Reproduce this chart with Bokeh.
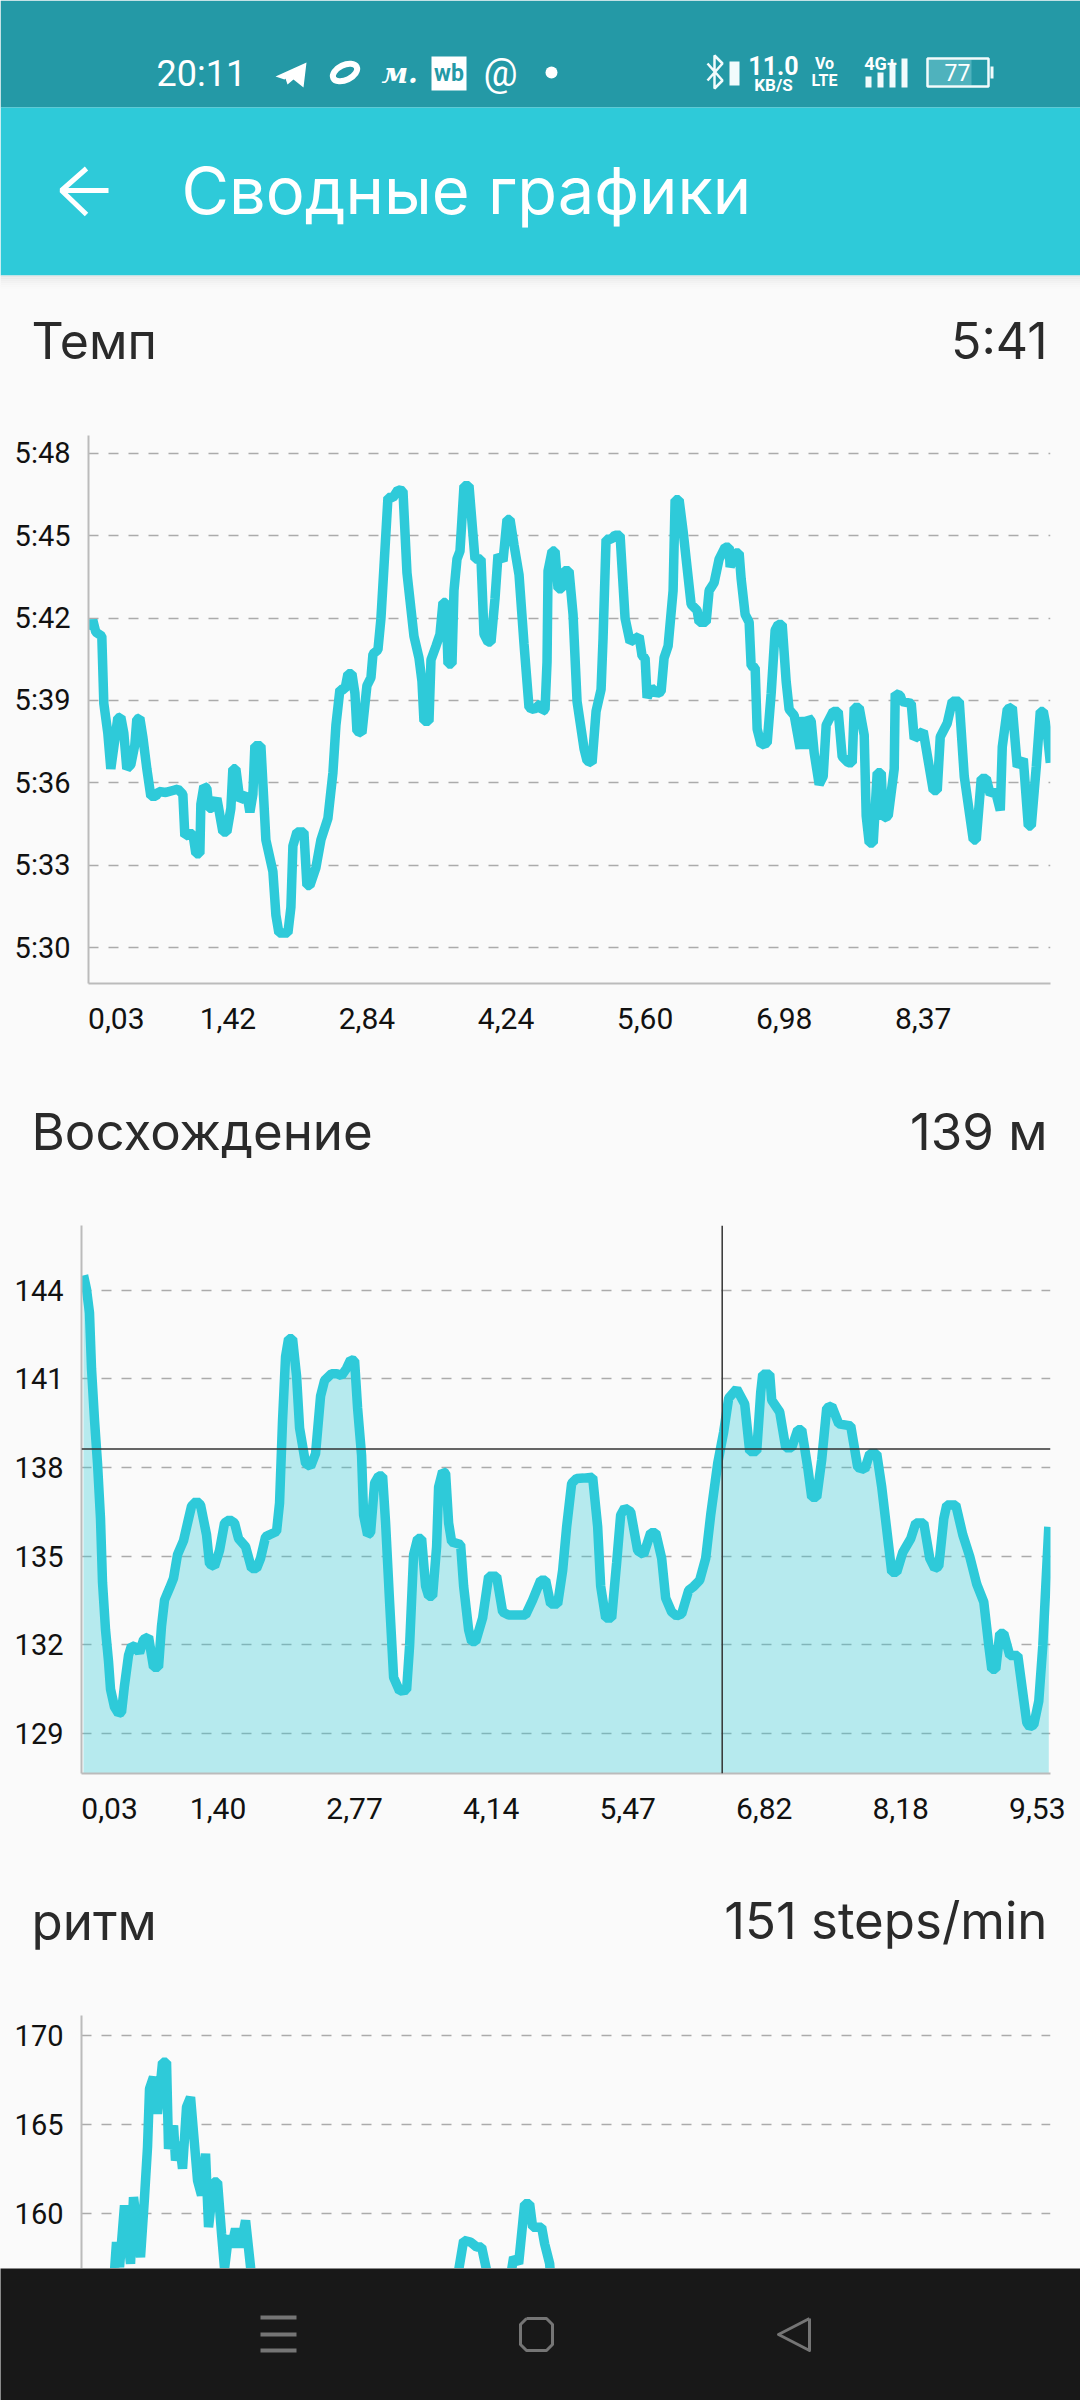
from bokeh.plotting import figure
from bokeh.layouts import column
from bokeh.models import Range1d, FixedTicker, Span
from bokeh.core.properties import value
from bokeh.embed import file_html
from bokeh.resources import INLINE

# ---------- data ----------
pace_km = [0.05,0.07,0.10,0.16,0.18,0.22,0.25,0.32,0.35,0.38,0.41,0.45,0.49,0.51,0.54,0.57,0.61,0.65,0.70,0.73,0.80,0.87,0.92,0.97,0.99,1.04,1.07,1.10,1.14,1.15,1.18,1.21,1.23,1.26,1.31,1.37,1.41,1.45,1.47,1.50,1.54,1.61,1.64,1.67,1.69,1.75,1.80,1.87,1.90,1.93,1.97,2.02,2.05,2.07,2.11,2.18,2.21,2.24,2.30,2.35,2.42,2.47,2.50,2.54,2.59,2.62,2.66,2.69,2.71,2.76,2.81,2.85,2.87,2.92,2.95,2.98,3.02,3.07,3.12,3.17,3.21,3.28,3.33,3.36,3.38,3.43,3.45,3.50,3.54,3.57,3.60,3.62,3.66,3.68,3.71,3.74,3.78,3.83,3.89,3.95,3.98,4.02,4.05,4.09,4.12,4.17,4.21,4.24,4.28,4.33,4.38,4.43,4.48,4.55,
           4.56,4.59,4.61,4.62,4.66,4.69,4.72,4.76,4.78,4.83,4.87,4.91,4.98,5.01,5.06,5.10,5.15,5.17,5.20,5.25,5.29,5.34,5.39,5.44,5.53,5.56,5.59,5.61,5.65,5.71,5.75,5.78,5.82,5.87,5.89,5.93,5.97,6.05,6.11,6.13,6.20,6.23,6.28,6.33,6.39,6.43,6.44,6.49,6.53,6.55,6.59,6.63,6.65,6.69,6.71,6.75,6.81,6.85,6.89,6.92,6.96,7.00,7.03,7.08,7.14,7.16,7.20,7.22,7.25,7.28,7.33,7.37,7.40,7.47,7.52,7.56,7.62,7.66,7.68,7.73,7.78,7.80,7.83,7.87,7.91,7.95,7.97,8.02,8.08,8.09,8.14,8.16,8.25,8.28,8.37,8.42,8.47,8.51,8.54,8.61,8.66,8.73,8.78,8.87,8.90,8.95,9.00,9.04,9.09,9.14,9.16,9.21,9.26,9.31,9.37,9.42,9.45,9.50,9.54,9.57,9.61,9.64]
pace_sec = [341.56,341.92,341.49,341.34,338.89,337.81,336.51,338.36,338.39,337.81,336.51,336.66,337.38,338.32,338.36,337.67,336.51,335.51,335.51,335.68,335.65,335.72,335.77,335.58,334.06,334.14,334.14,333.42,333.42,335.22,335.87,335.80,335.07,335.07,335.43,334.21,334.21,335.07,336.51,336.51,335.36,335.58,334.93,335.58,337.35,337.35,333.92,332.77,331.18,330.53,330.53,330.53,331.47,333.70,334.21,334.21,332.26,332.26,332.91,333.92,334.71,336.37,338.10,339.40,339.40,339.97,339.97,339.25,337.88,337.81,339.54,339.83,340.69,340.84,341.99,343.86,346.39,346.39,346.67,346.63,343.65,341.34,340.55,339.69,338.24,338.24,340.48,340.98,341.41,342.57,342.57,340.33,340.33,343.00,344.15,344.44,346.82,346.82,344.15,344.15,341.41,341.13,341.13,342.71,344.30,344.08,345.59,345.59,344.66,343.58,341.05,338.74,338.67,338.89,
            338.60,338.67,340.40,343.72,344.44,344.44,343.07,343.07,343.72,343.72,342.13,338.96,337.24,336.80,336.73,338.60,339.40,341.27,344.87,344.87,345.02,345.02,341.99,341.13,341.34,340.62,340.55,339.10,339.47,339.25,339.32,340.55,340.98,343.00,346.31,346.31,345.16,342.50,342.28,341.85,341.85,343.00,343.29,344.15,344.58,344.58,343.86,344.37,344.37,343.43,342.13,341.85,340.26,340.19,337.96,337.38,337.45,339.25,341.56,341.77,341.77,339.69,338.67,338.46,337.24,338.39,337.24,338.39,338.24,337.09,335.94,336.23,338.10,338.60,338.60,336.95,336.73,336.73,338.74,338.74,337.74,334.79,333.81,333.81,336.37,336.37,334.71,334.79,336.51,339.25,339.18,338.96,338.89,337.60,337.88,336.80,335.72,335.72,337.67,338.17,338.97,338.97,336.23,333.92,333.92,336.16,336.16,335.58,335.72,335.00,337.31,338.68,338.75,336.59,336.87,334.43,334.43,336.59,338.60,338.60,337.81,336.73]
pace_ticks = [330,333,336,339,342,345,348]
pace_tick_labels = ["5:30","5:33","5:36","5:39","5:42","5:45","5:48"]
pace_x_labels = ["0,03","1,42","2,84","4,24","5,60","6,98","8,37"]

elev_km = [0.05,0.08,0.11,0.13,0.16,0.19,0.22,0.24,0.27,0.30,0.32,0.36,0.40,0.43,0.46,0.50,0.53,0.58,0.61,0.65,0.70,0.75,0.80,0.83,0.86,0.91,0.95,0.99,1.05,1.10,1.13,1.18,1.22,1.28,1.31,1.36,1.41,1.46,1.51,1.56,1.60,1.67,1.73,1.78,1.82,1.87,1.91,1.98,2.01,2.04,2.07,2.10,2.14,2.18,2.21,2.27,2.32,2.37,2.42,2.46,2.53,2.58,2.63,2.68,2.72,2.76,2.79,2.83,2.85,2.89,2.92,2.96,3.00,3.04,3.07,3.11,3.15,3.21,3.28,3.31,3.35,3.39,3.43,3.47,3.50,3.54,3.58,3.60,3.64,3.67,3.70,3.73,3.82,3.85,3.90,3.93,3.97,4.04,4.10,4.18,4.24,4.30,4.47,4.54,4.62,
           4.64,4.67,4.72,4.79,4.84,4.88,4.93,4.98,5.05,5.14,5.19,5.22,5.27,5.33,5.38,5.42,5.46,5.52,5.59,5.65,5.72,5.77,5.83,5.87,5.93,5.98,6.03,6.10,6.15,6.21,6.27,6.32,6.39,6.45,6.50,6.58,6.66,6.71,6.78,6.82,6.84,6.91,6.93,7.01,7.07,7.13,7.19,7.23,7.29,7.33,7.38,7.43,7.48,7.53,7.60,7.72,7.79,7.86,7.91,7.98,8.03,8.10,8.13,8.18,8.24,8.32,8.37,8.45,8.51,8.56,8.60,8.65,8.68,8.77,8.84,8.91,8.98,9.05,9.10,9.13,9.17,9.21,9.25,9.31,9.39,9.48,9.51,9.55,9.60,9.64,9.68,9.70]
elev_m = [144.51,144.04,143.24,141.36,139.61,138.14,136.26,134.11,132.50,131.43,130.49,129.88,129.66,129.71,130.62,131.63,131.96,131.90,131.72,132.17,132.26,131.23,131.23,132.63,133.51,133.91,134.25,135.05,135.52,136.26,136.69,136.86,136.73,135.72,134.73,134.65,135.19,136.12,136.23,136.12,135.59,135.32,134.58,134.58,134.92,135.65,135.72,135.83,136.80,139.61,141.76,142.36,142.36,141.09,139.34,138.14,138.03,138.47,140.42,140.95,141.18,141.18,141.11,141.36,141.65,141.62,140.01,138.40,136.39,135.72,135.79,137.47,137.71,137.71,136.12,133.44,130.89,130.42,130.46,131.96,135.05,135.59,135.59,133.98,133.64,133.64,135.32,137.33,137.87,137.80,136.12,135.48,135.39,133.98,132.50,132.10,132.10,132.90,134.31,134.31,133.10,133.00,133.00,133.51,134.18,
          134.18,134.18,133.37,133.37,134.51,135.99,137.46,137.63,137.64,137.67,135.99,133.98,132.90,132.90,134.78,136.39,136.63,136.50,135.18,135.05,135.79,135.79,134.92,133.57,133.10,132.97,133.04,133.84,133.97,134.18,134.92,136.39,138.14,139.21,140.35,140.66,140.15,138.54,138.54,140.55,141.16,141.16,140.28,139.88,138.67,138.67,139.28,139.28,138.00,136.99,136.99,138.27,140.02,140.08,139.48,139.41,138.00,137.93,138.47,138.47,137.33,135.32,134.45,134.45,135.12,135.59,136.12,136.12,134.92,134.58,134.65,136.26,136.73,136.73,135.72,134.98,134.04,133.44,131.96,131.16,131.16,132.37,132.37,131.63,131.63,129.35,129.21,129.28,130.09,131.96,134.65,135.99]
elev_ticks = [129,132,135,138,141,144]
elev_x_labels = ["0,03","1,40","2,77","4,14","5,47","6,82","8,18","9,53"]
cross_km = 6.435
cross_m = 138.63

cad_km = [0.03,0.19,0.33,0.38,0.41,0.46,0.52,0.55,0.62,0.66,0.69,0.71,0.75,0.79,0.84,0.88,0.90,0.95,0.97,1.01,1.04,1.08,1.12,1.19,1.23,1.27,1.30,1.35,1.39,1.43,1.46,1.50,1.53,1.57,1.62,1.67,1.72,1.76,2.20,2.80,3.40,3.70,3.77,3.80,3.85,3.92,3.98,4.03,4.08,4.13,4.25,4.35,4.40,4.46,4.51,4.54,4.63,4.66,4.71,4.75,5.50,6.50,7.50,8.50,9.66]
cad_spm = [150,151,154.3,158.37,156.96,160.43,157.15,160.9,157.52,160.9,163.72,167.0,167.66,165.59,168.5,168.5,163.62,164.93,162.97,164.0,162.5,165.97,166.53,161.84,161.0,163.34,159.21,161.75,161.75,158.84,156.87,158.74,158.09,159.12,158.09,159.59,156.96,154.3,152,151,153,152,154.3,156.77,158.46,158.37,158.09,158.09,156.77,153.96,153.96,157.52,157.15,160.52,160.52,159.21,159.21,158.27,157.15,154.3,152,151,150,152,151]
cad_ticks = [160,165,170]

titles = ["Темп", "Восхождение", "ритм"]
summaries = ["5:41", "139 м", "151 steps/min"]
screen_title = "Сводные графики"

# ---------- styles ----------
BG = "#FAFAFA"; TEAL = "#2ECAD9"; DARK = "#2499A6"; INK = "#2A2A2A"
TICKF = "Roboto"; HEADF = "Inter"; TICKSZ = "30px"; LW = 9.5


def base_chart(h, left, top, bottom, xr, yr, yticks, ylabels):
    p = figure(width=1080, height=h, output_backend="svg", toolbar_location=None,
               x_range=Range1d(*xr), y_range=Range1d(*yr), frame_align=False,
               min_border_left=left, min_border_right=30, min_border_top=top, min_border_bottom=bottom,
               background_fill_color=BG, border_fill_color=BG, outline_line_color=None)
    p.xgrid.visible = False
    g = p.ygrid[0]
    g.ticker = FixedTicker(ticks=yticks)
    g.grid_line_color = "#ABABAB"; g.grid_line_width = 1.6; g.grid_line_dash = "10 10"
    ya = p.yaxis[0]
    ya.ticker = FixedTicker(ticks=yticks)
    ya.major_label_overrides = dict(zip(yticks, ylabels))
    ya.major_tick_line_color = None; ya.minor_tick_line_color = None
    ya.axis_line_color = "#BBBBBB"; ya.axis_line_width = 2
    ya.major_label_text_font = TICKF; ya.major_label_text_font_size = "29px"; ya.major_label_text_color = "#111111"
    ya.major_label_standoff = 12
    return p


def style_x(p, ticks, labels):
    xa = p.xaxis[0]
    xa.ticker = FixedTicker(ticks=ticks)
    xa.major_label_overrides = dict(zip(ticks, labels))
    xa.major_tick_line_color = None; xa.minor_tick_line_color = None
    xa.axis_line_color = "#BBBBBB"; xa.axis_line_width = 2
    xa.major_label_text_font = TICKF; xa.major_label_text_font_size = TICKSZ; xa.major_label_text_color = "#111111"
    xa.major_label_standoff = 18


def chrome(h, y0, bg=BG):
    p = figure(width=1080, height=h, output_backend="svg", toolbar_location=None,
               x_range=Range1d(0, 1080), y_range=Range1d(y0 + h, y0), frame_align=False,
               min_border=0, min_border_left=0, min_border_right=0, min_border_top=0, min_border_bottom=0,
               background_fill_color=bg, border_fill_color=bg, outline_line_color=None)
    p.axis.visible = False; p.grid.visible = False
    return p


def txt(p, x, y, s, size, font="Roboto", color="#FFFFFF", align="left", style="normal"):
    p.text(x=[x], y=[y], text=[s], text_font=value(font), text_font_size=value(f"{size}px"),
           text_color=color, text_align=align, text_baseline="middle", text_font_style=style)


def band(p, y0, y1, c):
    p.quad(left=0, right=1080, top=y0, bottom=y1, fill_color=c, line_color=None)


# ---------- header ----------
hd = chrome(400, 0)
band(hd, 0, 107, DARK)
band(hd, 107, 275, TEAL)
for i, c in enumerate(["#E6E6E6", "#EBEBEB", "#EFEFEF", "#F2F2F2", "#F5F5F5", "#F7F7F7", "#F9F9F9"]):
    band(hd, 275 + i * 2, 277 + i * 2, c)

WH = "#F2FBFC"
txt(hd, 156, 73, "20:11", 36)
hd.patch([275, 306, 303, 293, 287, 285, 296, 284], [76, 62, 87, 79, 84, 78, 68, 79], fill_color="#FFFFFF", line_color=None)
hd.ellipse([344.5], [72], width=26, height=15, angle=0.45, fill_color=None, line_color="#FFFFFF", line_width=6)
txt(hd, 381, 73, "м.", 28, font="DejaVu Serif", style="bold italic")
hd.quad(left=431, right=466, top=56, bottom=90, fill_color="#FFFFFF", line_color=None)
txt(hd, 448.5, 73, "wb", 23, color=DARK, align="center", style="bold")
txt(hd, 500, 72, "@", 38, align="center")
hd.scatter([551], [72], size=12, fill_color="#FFFFFF", line_color=None)
hd.multi_line([[707, 722, 714, 714, 722, 707]], [[63, 80, 88, 55, 63, 80]], line_color=WH, line_width=2.5)
hd.quad(left=729, right=739, top=61, bottom=85, fill_color=WH, line_color=None)
txt(hd, 773, 65, "11.0", 25, align="center", style="bold")
txt(hd, 773, 84, "KB/S", 17, align="center", style="bold")
txt(hd, 824, 63, "Vo", 16, align="center", style="bold")
txt(hd, 824, 80, "LTE", 16, align="center", style="bold")
txt(hd, 880, 63, "4G+", 18, align="center", style="bold")
hd.quad(left=[865, 877, 889, 901], right=[871, 883, 895, 907], top=[76, 72, 64, 58], bottom=[87, 87, 87, 87], fill_color=WH, line_color=None)
hd.quad(left=[927], right=[971], top=[59], bottom=[85], fill_color="#4FB2BD", line_color=None)
hd.quad(left=[927], right=[988], top=[58], bottom=[86], fill_color=None, line_color=WH, line_width=2.5)
hd.quad(left=[990], right=[993], top=[66], bottom=[78], fill_color=WH, line_color=None)
txt(hd, 957, 72, "77", 23, align="center")

hd.multi_line([[108, 62], [86, 61, 86]], [[190, 190], [168, 190, 214]], line_color="#FFFFFF", line_width=5)
txt(hd, 181, 190, screen_title, 65, font=HEADF)
txt(hd, 31, 340, titles[0], 50, font=HEADF, color=INK)
txt(hd, 1047, 340, summaries[0], 50, font=HEADF, color=INK, align="right")

# ---------- chart 1 ----------
xr1 = (0.027, 9.642); yr1 = (328.69, 348.65)
c1 = base_chart(660, 88, 35, 77, xr1, yr1, pace_ticks, pace_tick_labels)
c1.line(pace_km, pace_sec, line_color=TEAL, line_width=LW, line_join="bevel")
style_x(c1, [0.305] + [0.03 + 1.39 * i for i in range(1, 7)], pace_x_labels)

# ---------- chart 2 ----------
s2 = chrome(135, 1060)
txt(s2, 31, 1131, titles[1], 51, font=HEADF, color=INK)
txt(s2, 1047, 1131, summaries[1], 51, font=HEADF, color=INK, align="right")

xr2 = (0.03, 9.717); yr2 = (127.63, 146.2)
c2 = base_chart(655, 81, 30, 77, xr2, yr2, elev_ticks, [str(v) for v in elev_ticks])
c2.varea(x=elev_km, y1=[yr2[0]] * len(elev_km), y2=elev_m, fill_color=TEAL, fill_alpha=0.33)
c2.line(elev_km, elev_m, line_color=TEAL, line_width=LW, line_join="bevel")
c2.add_layout(Span(location=cross_km, dimension="height", line_color="#333333", line_width=1.5))
c2.add_layout(Span(location=cross_m, dimension="width", line_color="#333333", line_width=1.5))
style_x(c2, [0.31] + [0.03 + 1.365 * i for i in range(1, 8)], elev_x_labels)

# ---------- chart 3 ----------
s3 = chrome(135, 1850)
txt(s3, 31, 1921, titles[2], 51, font=HEADF, color=INK)
txt(s3, 1047, 1920, summaries[2], 51, font=HEADF, color=INK, align="right")

xr3 = (0.03, 9.717); yr3 = (156.88, 171.13)
c3 = base_chart(283, 81, 30, 0, xr3, yr3, cad_ticks, [str(v) for v in cad_ticks])
c3.line(cad_km, cad_spm, line_color=TEAL, line_width=LW, line_join="bevel")
c3.xaxis.visible = False

# ---------- navigation bar ----------
nav = chrome(132, 2268, bg="#181818")
nav.multi_line([[260, 296]] * 3, [[2317, 2317], [2334, 2334], [2350, 2350]], line_color="#757575", line_width=4)
nav.line([526, 546, 552, 552, 546, 526, 520, 520, 526], [2318, 2318, 2324, 2344, 2350, 2350, 2344, 2324, 2318], line_color="#757575", line_width=3, line_join="round")
nav.line([809, 809, 778, 809], [2318, 2350, 2334, 2318], line_color="#757575", line_width=3, line_join="round")

page = column(hd, c1, s2, c2, s3, c3, nav, spacing=0, styles={"background-color": BG})
open("out.html", "w").write(file_html(page, INLINE))
